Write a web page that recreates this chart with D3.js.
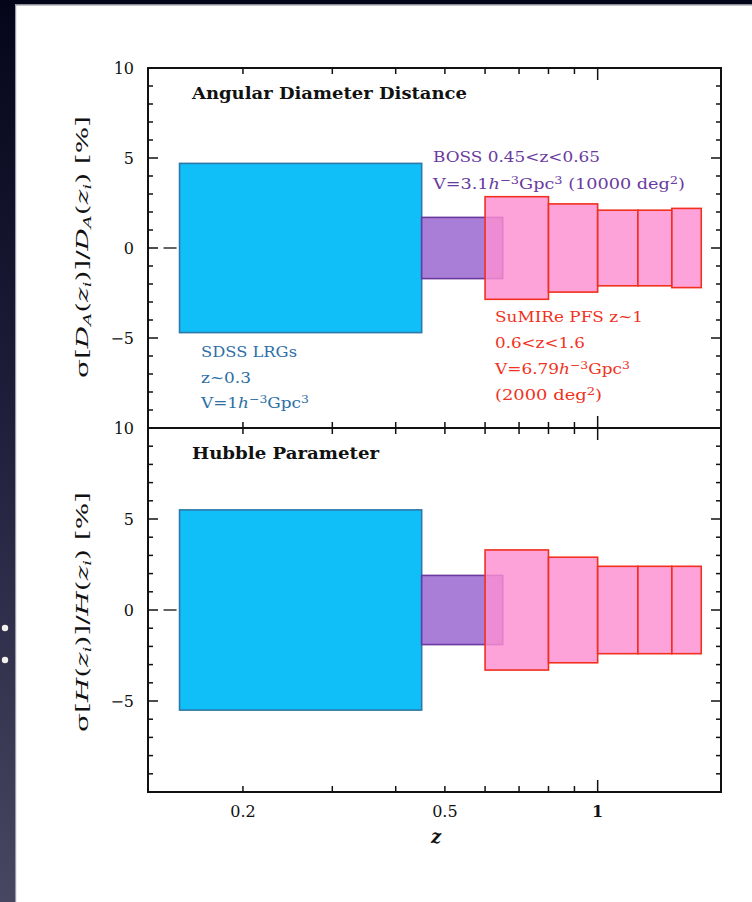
<!DOCTYPE html>
<html><head><meta charset="utf-8">
<script src="https://cdn.jsdelivr.net/npm/d3@7"></script>
<style>html,body{margin:0;padding:0;background:#fff;overflow:hidden}</style>
</head><body>
<script>
// ---- data ----
const binLo     = [0.15, 0.45, 0.6, 0.8, 1.0, 1.2, 1.4];
const binHi     = [0.45, 0.65, 0.8, 1.0, 1.2, 1.4, 1.6];
const binSurvey = ["SDSS", "BOSS", "PFS", "PFS", "PFS", "PFS", "PFS"];
const sigmaDA   = [4.7, 1.7, 2.85, 2.45, 2.1, 2.1, 2.2];
const sigmaH    = [5.5, 1.9, 3.3, 2.9, 2.4, 2.4, 2.4];
const xTickMinor = [0.2, 0.3, 0.4, 0.5, 0.6, 0.7, 0.8, 0.9];
const xTickMajor = [1];
const xTickLabels = [0.2, 0.5, 1];
const yTickLabels = [10, 5, 0, -5];
const panelTitles = ["Angular Diameter Distance", "Hubble Parameter"];

const W = 752, H = 902;
const svg = d3.select("body").append("svg").attr("width", W).attr("height", H);

// background frame
const defs = svg.append("defs");
const lg = defs.append("linearGradient").attr("id","lg").attr("x1",0).attr("x2",0).attr("y1",0).attr("y2",1);
lg.append("stop").attr("offset","0").attr("stop-color","#05051a");
lg.append("stop").attr("offset","0.45").attr("stop-color","#1e1e3a");
lg.append("stop").attr("offset","1").attr("stop-color","#474762");
svg.append("rect").attr("x",0).attr("y",0).attr("width",W).attr("height",H).attr("fill","#fff");
svg.append("rect").attr("x",0).attr("y",0).attr("width",W).attr("height",4).attr("fill","#05051a");
svg.append("rect").attr("x",0).attr("y",4).attr("width",W).attr("height",1.5).attr("fill","#8a8a98");
svg.append("rect").attr("x",0).attr("y",0).attr("width",15).attr("height",H).attr("fill","url(#lg)");
svg.append("rect").attr("x",15).attr("y",4).attr("width",1.2).attr("height",H).attr("fill","#9a9aa8");
[628, 660].forEach(cy => {
  svg.append("circle").attr("cx",5).attr("cy",cy).attr("r",3.2).attr("fill","#f4f0ee");
});

const L = 148, R = 721;
const x = d3.scaleLog().domain([0.13, 1.75]).range([L, R]);
const panels = [
  {top: 68, bottom: 428, vals: sigmaDA},
  {top: 428, bottom: 792, vals: sigmaH}
];
const colors = {
  SDSS: {fill:"#10bff8", stroke:"#2d78a8", op:1},
  BOSS: {fill:"#a87ed6", stroke:"#6a3aa0", op:1},
  PFS:  {fill:"#fd8fd2", stroke:"#f2301e", op:0.82}
};
const font = "'DejaVu Serif', serif";

panels.forEach((p, pi) => {
  const y = d3.scaleLinear().domain([-10, 10]).range([p.bottom, p.top]);
  p.y = y;
  const g = svg.append("g");
  // zero dash
  g.append("line").attr("x1", x(0.1395)).attr("x2", x(0.148)).attr("y1", y(0)).attr("y2", y(0))
    .attr("stroke","#222").attr("stroke-width",1.4);
  // boxes
  const order = d3.range(binLo.length);
  g.selectAll("rect.box").data(order).join("rect")
    .attr("x", i => x(binLo[i]))
    .attr("width", i => x(binHi[i]) - x(binLo[i]))
    .attr("y", i => y(p.vals[i]))
    .attr("height", i => y(-p.vals[i]) - y(p.vals[i]))
    .attr("fill", i => colors[binSurvey[i]].fill)
    .attr("fill-opacity", i => colors[binSurvey[i]].op)
    .attr("stroke", i => colors[binSurvey[i]].stroke)
    .attr("stroke-width", 1.6);
  // y ticks
  const yt = d3.range(-10, 11);
  yt.forEach(v => {
    const len = v % 5 === 0 ? 10 : 5;
    if (v === 10 || v === -10) return;
    g.append("line").attr("x1", L).attr("x2", L + len).attr("y1", y(v)).attr("y2", y(v))
      .attr("stroke","#111").attr("stroke-width",1.5);
    g.append("line").attr("x1", R).attr("x2", R - len).attr("y1", y(v)).attr("y2", y(v))
      .attr("stroke","#111").attr("stroke-width",1.5);
  });
  // x ticks top & bottom of panel
  [[p.top, 1], [p.bottom, -1]].forEach(([yy, dir]) => {
    xTickMinor.forEach(t => {
      g.append("line").attr("x1", x(t)).attr("x2", x(t)).attr("y1", yy).attr("y2", yy + dir*6)
        .attr("stroke","#111").attr("stroke-width",1.5);
    });
    xTickMajor.forEach(t => {
      g.append("line").attr("x1", x(t)).attr("x2", x(t)).attr("y1", yy).attr("y2", yy + dir*12)
        .attr("stroke","#111").attr("stroke-width",1.5);
    });
  });
  // y tick labels
  yTickLabels.forEach(v => {
    g.append("text").attr("x", 134).attr("y", y(v) + 6)
      .attr("text-anchor","end").attr("font-family",font).attr("font-size",16)
      .attr("fill","#111").text(v < 0 ? "\u2212" + Math.abs(v) : v);
  });
  // panel title
  g.append("text").attr("x", 192).attr("y", p.top + 31)
    .attr("font-family",font).attr("font-size",16).attr("font-weight","bold").attr("fill","#111")
    .attr("textLength", pi === 0 ? 275 : 187).attr("lengthAdjust","spacingAndGlyphs")
    .text(panelTitles[pi]);
});

// frame
svg.append("rect").attr("x",L).attr("y",68).attr("width",R-L).attr("height",792-68)
  .attr("fill","none").attr("stroke","#111").attr("stroke-width",2);
svg.append("line").attr("x1",L).attr("x2",R).attr("y1",428).attr("y2",428)
  .attr("stroke","#111").attr("stroke-width",2);

// x tick labels
xTickLabels.forEach(t => {
  svg.append("text").attr("x", x(t)).attr("y", 817).attr("text-anchor","middle")
    .attr("font-family",font).attr("font-size",16).attr("font-weight", t === 1 ? "bold" : "normal")
    .attr("fill","#111").text(t);
});
svg.append("text").attr("x", 436).attr("y", 843).attr("text-anchor","middle")
  .attr("font-family",font).attr("font-style","italic").attr("font-weight","bold").attr("font-size",18)
  .attr("fill","#111").text("z");

// y axis labels
function ylabel(cy, parts, len) {
  const t = svg.append("text").attr("transform", `translate(88,${cy}) rotate(-90)`)
    .attr("text-anchor","middle").attr("font-family",font).attr("font-size",17).attr("fill","#111")
    .attr("textLength", len).attr("lengthAdjust","spacingAndGlyphs");
  parts.forEach(([s, st]) => {
    const ts = t.append("tspan").text(s);
    if (st === "i") ts.attr("font-style","italic");
    if (st === "sub") ts.attr("font-size",11).attr("baseline-shift","-25%").attr("font-style","italic");
  });
}
ylabel(247, [["σ["],["D","i"],["A","sub"],["("],["z","i"],["i","sub"],[")]/"],["D","i"],["A","sub"],["("],["z","i"],["i","sub"],[")  [%]"]], 262);
ylabel(612, [["σ["],["H","i"],["("],["z","i"],["i","sub"],[")]/"],["H","i"],["("],["z","i"],["i","sub"],[")  [%]"]], 240);

// annotations
function note(x0, y0, lines, lens, color, dy) {
  lines.forEach((parts, li) => {
    const t = svg.append("text").attr("x", x0).attr("y", y0 + li*dy)
      .attr("font-family",font).attr("font-size",15).attr("fill",color)
      .attr("textLength", lens[li]).attr("lengthAdjust","spacingAndGlyphs");
    parts.forEach(([s, st]) => {
      const ts = t.append("tspan").text(s);
      if (st === "i") ts.attr("font-style","italic");
      if (st === "sup") ts.attr("font-size",11).attr("baseline-shift","45%");
    });
  });
}
note(433, 162, [
  [["BOSS 0.45<z<0.65"]],
  [["V=3.1"],["h","i"],["−3","sup"],["Gpc"],["3","sup"],[" (10000 deg"],["2","sup"],[")"]]
], [167, 252], "#6a3aa0", 27);
note(495, 322, [
  [["SuMIRe PFS z~1"]],
  [["0.6<z<1.6"]],
  [["V=6.79"],["h","i"],["−3","sup"],["Gpc"],["3","sup"]],
  [["(2000 deg"],["2","sup"],[")"]]
], [148, 90, 135, 107], "#f0321e", 26);
note(201, 357, [
  [["SDSS LRGs"]],
  [["z~0.3"]],
  [["V=1"],["h","i"],["−3","sup"],["Gpc"],["3","sup"]]
], [96, 50, 108], "#2d6fa6", 25.5);
</script>
</body></html>
